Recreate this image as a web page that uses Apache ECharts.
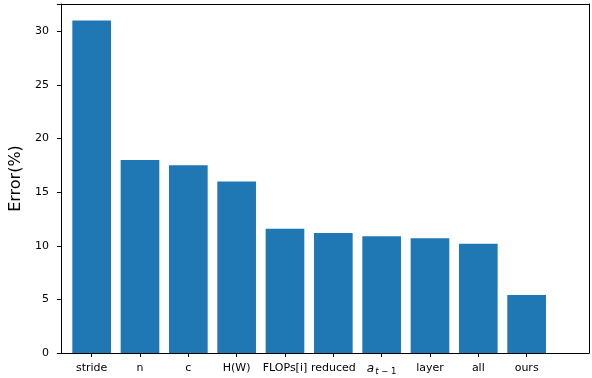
<!DOCTYPE html>
<html><head><meta charset="utf-8">
<script src="https://cdn.jsdelivr.net/npm/echarts@6/dist/echarts.min.js"></script>
<style>html,body{margin:0;padding:0;background:#fff}#c{width:592px;height:378px}</style>
</head><body><div id="c"></div>
<script>
const categories = ['stride','n','c','H(W)','FLOPs[i]','reduced','a_{t-1}','layer','all','ours'];
const errorValues = [31.0, 18.0, 17.5, 16.0, 11.6, 11.2, 10.9, 10.7, 10.2, 5.4];
const yTicks = [0, 5, 10, 15, 20, 25, 30];
const yMax = 32.55;

const chart = echarts.init(document.getElementById('c'));
const font = 'DejaVu Sans';
const frameLine = {show: true, onZero: false, lineStyle: {color: '#000', width: 1}};
chart.setOption({
  animation: false,
  grid: [
    {left: 49, top: 4, width: 540, height: 349},
    {left: 67.5, top: 4, width: 483.3, height: 349}
  ],
  xAxis: [
    {gridIndex: 0, type: 'value', min: 0, max: 1, position: 'bottom', axisLine: frameLine,
     axisTick: {show: false}, axisLabel: {show: false}, splitLine: {show: false}},
    {gridIndex: 0, type: 'value', min: 0, max: 1, position: 'top', axisLine: frameLine,
     axisTick: {show: false}, axisLabel: {show: false}, splitLine: {show: false}},
    {gridIndex: 1, type: 'category', data: categories,
     axisLine: {show: false},
     axisTick: {show: true, alignWithLabel: true, length: 4, lineStyle: {color: '#000', width: 1}},
     axisLabel: {color: '#000', fontFamily: font, fontSize: 11, margin: 10, interval: 0,
       formatter: v => v === 'a_{t-1}' ? '{i|a}{s|t}{d| − 1}' : v,
       rich: {i: {fontStyle: 'italic', fontFamily: font, fontSize: 12, color: '#000', verticalAlign: 'top'},
              s: {fontStyle: 'italic', fontFamily: font, fontSize: 8.5, color: '#000', verticalAlign: 'top', padding: [4,0,0,1]},
              d: {fontFamily: font, fontSize: 8.5, color: '#000', verticalAlign: 'top', padding: [4,0,0,0]}}}
    }
  ],
  yAxis: [
    {gridIndex: 0, type: 'value', min: 0, max: yMax, interval: 5, position: 'left',
     name: 'Error(%)', nameLocation: 'middle', nameGap: 34, nameRotate: 90,
     nameTextStyle: {fontFamily: font, fontSize: 16, color: '#000'},
     axisLine: frameLine, splitLine: {show: false},
     axisTick: {show: true, length: 4, lineStyle: {color: '#000'}},
     axisLabel: {color: '#000', fontFamily: font, fontSize: 11, margin: 12,
       formatter: v => yTicks.includes(v) ? String(v) : ''}},
    {gridIndex: 0, type: 'value', min: 0, max: yMax, position: 'right', axisLine: frameLine,
     axisTick: {show: false}, axisLabel: {show: false}, splitLine: {show: false}},
    {gridIndex: 1, type: 'value', min: 0, max: yMax, show: false}
  ],
  series: [{
    type: 'bar', xAxisIndex: 2, yAxisIndex: 2, data: errorValues,
    barWidth: '80%', itemStyle: {color: '#1f77b4'}
  }]
});
</script></body></html>
